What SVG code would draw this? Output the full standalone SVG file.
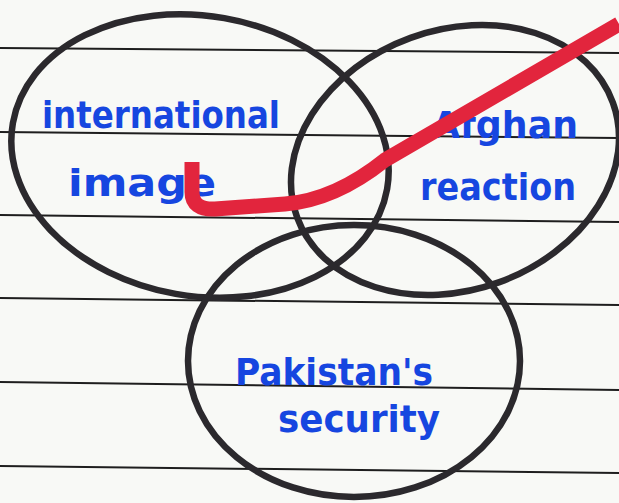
<svg xmlns="http://www.w3.org/2000/svg" width="619" height="503" viewBox="0 0 619 503">
<style>
.rule{stroke:#1e1e1e;stroke-width:2;fill:none}
.ring{fill:none;stroke:#2b292d;stroke-width:6.5}
.lbl{font-family:"DejaVu Sans Condensed","DejaVu Sans","Liberation Sans",sans-serif;font-weight:bold;fill:#1646e0;font-size:38px}
.strike{fill:none;stroke:#e2253d;stroke-width:15;stroke-linecap:butt;stroke-linejoin:round}
</style>
<rect width="619" height="503" fill="#f8f9f6"/>
<g id="paper">
<line class="rule" x1="0" y1="48" x2="619" y2="53"/>
<line class="rule" x1="0" y1="132" x2="619" y2="138"/>
<line class="rule" x1="0" y1="215" x2="619" y2="222"/>
<line class="rule" x1="0" y1="298" x2="619" y2="305"/>
<line class="rule" x1="0" y1="382" x2="619" y2="390"/>
<line class="rule" x1="0" y1="466" x2="619" y2="473"/>
</g>
<g id="international-image">
<ellipse class="ring" cx="200" cy="156" rx="190" ry="140" transform="rotate(10 200 156)"/>
<text class="lbl" x="42" y="128" textLength="238" lengthAdjust="spacingAndGlyphs">international</text>
<text class="lbl" x="68" y="196" textLength="148" lengthAdjust="spacingAndGlyphs">image</text>
</g>
<g id="afghan-reaction">
<ellipse class="ring" cx="455" cy="160" rx="168" ry="130" transform="rotate(-20 455 160)"/>
<text class="lbl" x="432" y="138" textLength="146" lengthAdjust="spacingAndGlyphs">Afghan</text>
<text class="lbl" x="420" y="200" textLength="156" lengthAdjust="spacingAndGlyphs">reaction</text>
</g>
<g id="pakistans-security">
<ellipse class="ring" cx="354" cy="361" rx="166" ry="136"/>
<text class="lbl" x="235" y="385" textLength="198" lengthAdjust="spacingAndGlyphs">Pakistan's</text>
<text class="lbl" x="278" y="432" textLength="162" lengthAdjust="spacingAndGlyphs">security</text>
</g>
<g id="connectors">
<path class="strike" d="M192 162 L192 192 Q192 210 215 209 L285 204 Q335 200 385 160 L619 24"/>
</g>
</svg>
